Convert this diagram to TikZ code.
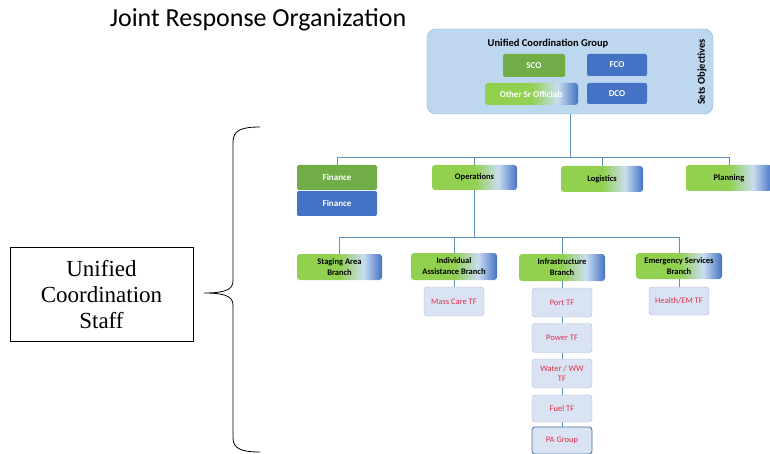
\documentclass[tikz,border=0pt]{standalone}
\usepackage{fontspec}
\setmainfont{Carlito}
\newfontfamily\staffserif{Liberation Serif}
\usepackage{xcolor}
\definecolor{ucgfill}{HTML}{BDD7EE}
\definecolor{ucgline}{HTML}{8EAFCF}
\definecolor{dgreen}{HTML}{70AD47}
\definecolor{lgreen}{HTML}{92D050}
\definecolor{mblue}{HTML}{4472C4}
\definecolor{paleblue}{HTML}{C9DDF0}
\definecolor{tffill}{HTML}{DAE3F3}
\definecolor{tfline}{HTML}{A9BBD3}
\definecolor{tftext}{HTML}{E0324A}
\definecolor{linkblue}{HTML}{5E90BC}
\pgfdeclarehorizontalshading{greenblue}{100bp}{color(0bp)=(lgreen); color(25bp)=(lgreen); color(50bp)=(lgreen); color(64bp)=(paleblue); color(75bp)=(mblue); color(100bp)=(mblue)}
\tikzset{
    group-box/.style = {fill=ucgfill, draw=ucgline, rounded corners=9pt, minimum width=286pt, minimum height=85pt, inner sep=0pt},
    green-box/.style = {fill=dgreen, text=white, rounded corners=2pt, inner sep=0pt, font=\bfseries\fontsize{9}{10}\selectfont},
    blue-box/.style = {fill=mblue, text=white, rounded corners=2pt, inner sep=0pt, font=\bfseries\fontsize{9}{10}\selectfont},
    shaded-box/.style = {shading=greenblue, rounded corners=3pt, inner sep=0pt, align=center, font=\bfseries\fontsize{8.5}{11}\selectfont},
    tf-box/.style = {fill=tffill, draw=tfline, rounded corners=3pt, inner sep=0pt, minimum width=60pt, align=center, text=tftext, font=\fontsize{8.5}{10}\selectfont},
    link/.style = {draw=linkblue, line width=1pt},
}
\begin{document}
\begin{tikzpicture}[x=1pt, y=-1pt]
\useasboundingbox (0,0) rectangle (770,454);
\node (title) at (258,20) {\fontsize{26}{30}\selectfont Joint Response Organization};

\node[group-box] (ucg) at (570,71.5) {};
\node[font=\bfseries\fontsize{10.5}{12}\selectfont] (ucgtitle) at (548,44) {Unified Coordination Group};
\node[green-box, minimum width=62pt, minimum height=23pt] (sco) at (534,65.5) {SCO};
\node[blue-box, minimum width=60pt, minimum height=22pt] (fco) at (617,65) {FCO};
\node[shaded-box, text=white, font=\bfseries\fontsize{9}{10}\selectfont, minimum width=93pt, minimum height=22pt] (oso) at (531.5,94) {Other Sr Officials};
\node[blue-box, minimum width=60pt, minimum height=21pt] (dco) at (617,93.5) {DCO};
\node[rotate=90, font=\bfseries\fontsize{10.5}{12}\selectfont] (sets) at (702,72) {Sets Objectives};

\node[green-box, minimum width=80pt, minimum height=25pt] (fin) at (337,177.5) {Finance};
\node[blue-box, minimum width=80pt, minimum height=25pt] (finb) at (337,203.5) {Finance};
\node[shaded-box, minimum width=85pt, minimum height=25pt] (ops) at (474.5,177.5) {Operations};
\node[shaded-box, minimum width=82pt, minimum height=26pt] (log) at (602,179) {Logistics};
\node[shaded-box, minimum width=86pt, minimum height=26pt] (plan) at (729,178) {Planning};

\node[shaded-box, minimum width=85pt, minimum height=26pt] (stage) at (339.5,267) {Staging Area\\Branch};
\node[shaded-box, minimum width=86pt, minimum height=27pt] (indiv) at (454,266.5) {Individual\\Assistance Branch};
\node[shaded-box, minimum width=86pt, minimum height=27pt] (infra) at (562,267.5) {Infrastructure\\Branch};
\node[shaded-box, minimum width=86pt, minimum height=26pt] (emerg) at (679,266) {Emergency Services\\Branch};

\node[tf-box, minimum height=29pt] (mass) at (454,301.5) {Mass Care TF};
\node[tf-box, minimum height=28pt] (health) at (679,301) {Health/EM TF};
\node[tf-box, minimum height=29pt] (port) at (562,302.5) {Port TF};
\node[tf-box, minimum height=29pt] (power) at (562,338) {Power TF};
\node[tf-box, minimum height=29pt] (water) at (562,373.5) {Water / WW\\TF};
\node[tf-box, minimum height=27pt] (fuel) at (562,408.5) {Fuel TF};
\node[tf-box, draw=linkblue!80!black, thick, minimum height=27pt] (pa) at (562,440.5) {PA Group};

\node[draw, line width=0.6pt, minimum width=183pt, minimum height=94pt, align=center, font=\staffserif\fontsize{23}{26}\selectfont] (staff) at (101.5,294.5) {Unified\\Coordination\\Staff};

\coordinate (bus1) at (567,158);
\coordinate (bus2) at (474.5,237);
\coordinate (bracelow) at (260,452);
\coordinate (bracehigh) at (260,127);
\coordinate (bracetip) at (204,293);

\draw[link] (ucg.south) -- (ucg.south |- bus1);
\draw[link] (fin.north) |- (bus1 -| plan.north) -- (plan.north);
\draw[link] (ops.north) -- (ops.north |- bus1);
\draw[link] (log.north) -- (log.north |- bus1);
\draw[link] (ops.south) -- (bus2);
\draw[link] (stage.north) |- (bus2 -| emerg.north) -- (emerg.north);
\draw[link] (indiv.north) -- (indiv.north |- bus2);
\draw[link] (infra.north) -- (infra.north |- bus2);
\draw[link] (indiv.south) -- (mass.north);
\draw[link] (emerg.south) -- (health.north);
\draw[link] (infra.south) -- (port.north);
\draw[link] (port.south) -- (power.north);
\draw[link] (power.south) -- (water.north);
\draw[link] (water.south) -- (fuel.north);
\draw[link] (fuel.south) -- (pa.north);

\draw[line width=0.8pt] (bracehigh) .. controls (242,127) and (233,130) .. (233,142) -- (233,281)
    .. controls (233,290) and (224,293) .. (bracetip)
    .. controls (224,293) and (233,296) .. (233,305) -- (233,438)
    .. controls (233,449) and (242,452) .. (bracelow);
\end{tikzpicture}
\end{document}
